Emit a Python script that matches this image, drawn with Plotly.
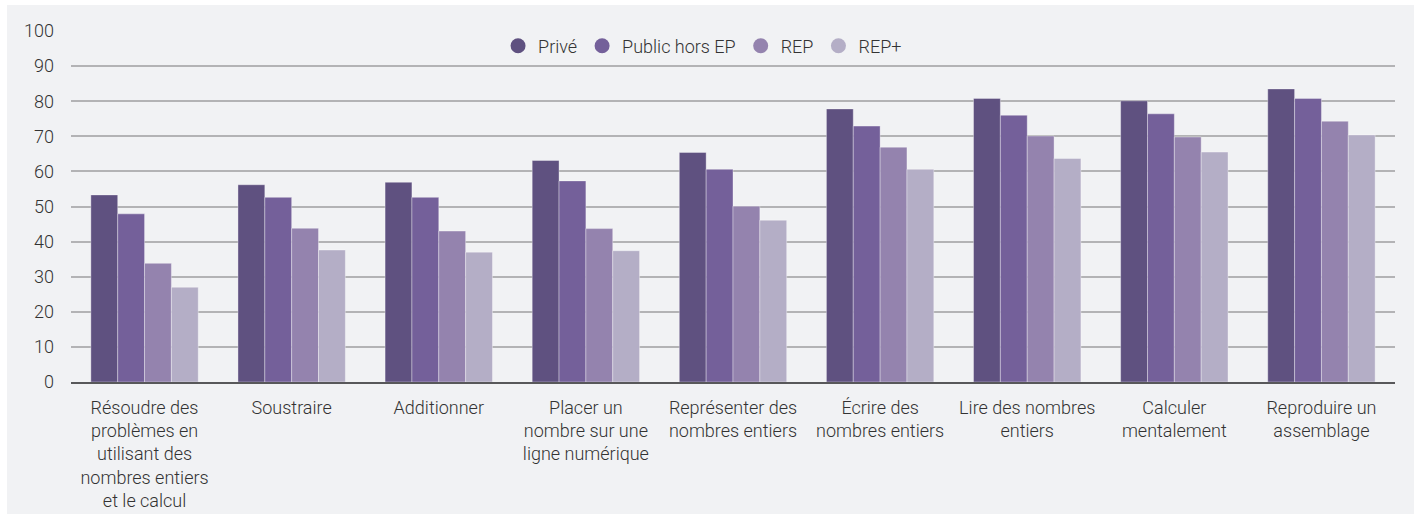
import plotly.graph_objects as go

categories = [
    "Résoudre des<br>problèmes en<br>utilisant des<br>nombres entiers<br>et le calcul",
    "Soustraire",
    "Additionner",
    "Placer un<br>nombre sur une<br>ligne numérique",
    "Représenter des<br>nombres entiers",
    "Écrire des<br>nombres entiers",
    "Lire des nombres<br>entiers",
    "Calculer<br>mentalement",
    "Reproduire un<br>assemblage",
]

series_names = ["Privé", "Public hors EP", "REP", "REP+"]
prive = [53.3, 56.2, 56.9, 63.1, 65.4, 77.8, 80.8, 80.1, 83.5]
public_hors_ep = [47.9, 52.6, 52.6, 57.3, 60.6, 72.9, 76.0, 76.4, 80.8]
rep = [33.8, 43.8, 43.0, 43.7, 50.1, 66.9, 70.1, 69.8, 74.3]
rep_plus = [27.0, 37.6, 37.0, 37.4, 46.1, 60.6, 63.7, 65.5, 70.4]
series_values = [prive, public_hors_ep, rep, rep_plus]

y_ticks = [0, 10, 20, 30, 40, 50, 60, 70, 80, 90, 100]

colors = ["#5f5180", "#74609a", "#9483ae", "#b4aec6"]
text_color = "#333333"
panel = "#f1f2f4"
font_family = "Roboto, 'Open Sans', sans-serif"

fig = go.Figure()
for name, vals, col in zip(series_names, series_values, colors):
    fig.add_trace(go.Bar(
        x=categories, y=vals, name=name, showlegend=False,
        marker=dict(color=col, line=dict(color="rgba(255,255,255,0.35)", width=1)),
    ))
for name, col in zip(series_names, colors):
    fig.add_trace(go.Scatter(
        x=[None], y=[None], mode="markers", name=name,
        marker=dict(symbol="circle", size=15, color=col),
    ))

W, H = 1418, 514
ml, mr, mt, mb = 71, 23, 31, 132
pw = W - ml - mr
ph = H - mt - mb

fig.add_shape(
    type="rect", xref="paper", yref="paper", layer="below",
    x0=(7 - ml) / pw, x1=(1414 - ml) / pw,
    y0=(H - mb - 520) / ph, y1=(H - mb - 5) / ph,
    fillcolor=panel, line=dict(width=0),
)

fig.update_layout(
    width=W, height=H,
    margin=dict(l=ml, r=mr, t=mt, b=mb, pad=0, autoexpand=False),
    paper_bgcolor="white",
    plot_bgcolor=panel,
    barmode="group",
    bargap=0.27,
    bargroupgap=0,
    font=dict(family=font_family, size=18, color=text_color, weight=300),
    legend=dict(
        orientation="h", x=0.477, xanchor="center", y=(351 - 15) / 351, yanchor="middle",
        bgcolor="rgba(0,0,0,0)", font=dict(size=18, color=text_color, weight=300),
        itemwidth=30, tracegroupgap=0,
    ),
    xaxis=dict(
        showgrid=False, showline=True, linecolor="#58585a", linewidth=2,
        ticks="", tickfont=dict(size=18, color=text_color), ticklabelstandoff=8,
        automargin=False,
    ),
    yaxis=dict(
        range=[0, 100], tickvals=y_ticks, showgrid=True, gridcolor="#b3b3b5", gridwidth=1.5,
        zeroline=False, showline=False, ticks="",
        tickfont=dict(size=18, color=text_color), ticklabelstandoff=16,
        automargin=False,
    ),
)

fig.write_html(
    "out.html",
    config={"displayModeBar": False},
    post_script="document.body.style.margin='0';",
)
